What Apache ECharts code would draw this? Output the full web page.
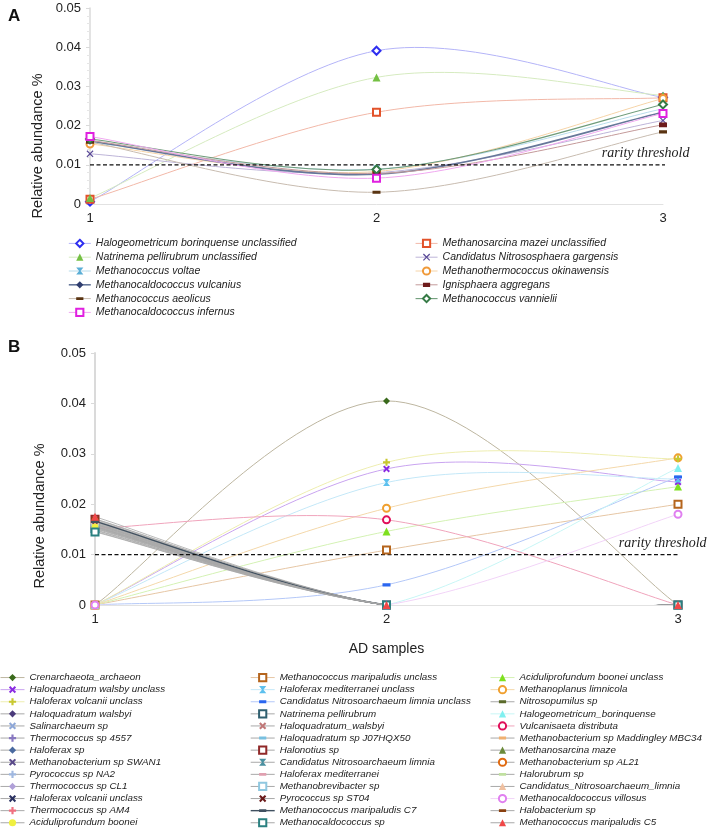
<!DOCTYPE html>
<html><head><meta charset="utf-8">
<script src="https://cdn.jsdelivr.net/npm/echarts@6/dist/echarts.min.js"></script>
<style>html,body{margin:0;padding:0;background:#fff}#c{width:708px;height:830px}</style>
</head><body><div id="c"></div>
<script>
// ---------------- data ----------------
const samples = [1, 2, 3];
const yMin = 0, yMax = 0.05, yStep = 0.01;
const rarityThreshold = 0.01;
const thresholdEnd = 3.033;
const yTitle = 'Relative abundance %';
const xTitle = 'AD samples';
const thresholdText = 'rarity threshold';

// Panel A (series order = legend row-major order, 2 columns)
const namesA = [
  'Halogeometricum borinquense unclassified', 'Methanosarcina mazei unclassified',
  'Natrinema pellirubrum unclassified', 'Candidatus Nitrososphaera gargensis',
  'Methanococcus voltae', 'Methanothermococcus okinawensis',
  'Methanocaldococcus vulcanius', 'Ignisphaera aggregans',
  'Methanococcus aeolicus', 'Methanococcus vannielii',
  'Methanocaldococcus infernus'
];
const valuesA = [
  [0.0006, 0.0391, 0.0272],
  [0.0012, 0.0234, 0.0271],
  [0.0015, 0.0323, 0.0277],
  [0.0128, 0.0080, 0.0213],
  [0.0157, 0.0089, 0.0243],
  [0.0153, 0.0083, 0.0269],
  [0.0160, 0.0076, 0.0234],
  [0.0162, 0.0078, 0.0202],
  [0.0158, 0.0030, 0.0184],
  [0.0166, 0.0088, 0.0254],
  [0.0172, 0.0066, 0.0231]
];

// Panel B (series order = legend row-major order, 3 columns)
const namesB = [
  'Crenarchaeota_archaeon', 'Methanococcus maripaludis unclass', 'Aciduliprofundum boonei unclass',
  'Haloquadratum walsby unclass', 'Haloferax mediterranei unclass', 'Methanoplanus limnicola',
  'Haloferax volcanii unclass', 'Candidatus Nitrosoarchaeum limnia unclass', 'Nitrosopumilus sp',
  'Haloquadratum walsbyi', 'Natrinema pellirubrum', 'Halogeometricum_borinquense',
  'Salinarchaeum sp', 'Haloquadratum_walsbyi', 'Vulcanisaeta distributa',
  'Thermococcus sp 4557', 'Haloquadratum sp J07HQX50', 'Methanobacterium sp Maddingley MBC34',
  'Haloferax sp', 'Halonotius sp', 'Methanosarcina maze',
  'Methanobacterium sp SWAN1', 'Candidatus Nitrosoarchaeum limnia', 'Methanobacterium sp AL21',
  'Pyrococcus sp NA2', 'Haloferax mediterranei', 'Halorubrum sp',
  'Thermococcus sp CL1', 'Methanobrevibacter sp', 'Candidatus_Nitrosoarchaeum_limnia',
  'Haloferax volcanii unclass ', 'Pyrococcus sp ST04', 'Methanocaldococcus villosus',
  'Thermococcus sp AM4', 'Methanococcus maripaludis C7', 'Halobacterium sp',
  'Aciduliprofundum boonei', 'Methanocaldococcus sp', 'Methanococcus maripaludis C5'
];
const valuesB = [
  [0, 0.0405, 0], [0, 0.0109, 0.0200], [0, 0.0146, 0.0235],
  [0, 0.0270, 0.0244], [0, 0.0243, 0.0250], [0, 0.0192, 0.0292],
  [0, 0.0283, 0.0290], [0, 0.0040, 0.0254], [0.0146, 0, 0],
  [0.0166, 0, 0], [0.0152, 0, 0], [0, 0, 0.0272],
  [0.0158, 0, 0], [0.0160, 0, 0], [0.0152, 0.0169, 0],
  [0.0163, 0, 0], [0.0149, 0, 0], [0.0155, 0, 0],
  [0.0157, 0, 0], [0.0170, 0, 0], [0.0148, 0, 0],
  [0.0161, 0, 0], [0.0154, 0, 0], [0.0156, 0, 0],
  [0.0159, 0, 0], [0.0151, 0, 0], [0.0162, 0, 0],
  [0.0164, 0, 0], [0.0153, 0, 0], [0.0167, 0, 0],
  [0.0160, 0, 0], [0.0168, 0, 0], [0, 0, 0.0180],
  [0.0165, 0, 0], [0.0166, 0, 0], [0.0171, 0, 0],
  [0.0155, 0, 0], [0.0145, 0, 0], [0.0175, 0, 0]
];

// ---------------- styles ----------------
const SYM = {
  x: 'path://M2,0L5,3L8,0L10,2L7,5L10,8L8,10L5,7L2,10L0,8L3,5L0,2Z',
  thinX: 'path://M1.2,0L5,3.8L8.8,0L10,1.2L6.2,5L10,8.8L8.8,10L5,6.2L1.2,10L0,8.8L3.8,5L0,1.2Z',
  plus: 'path://M3.5,0H6.5V3.5H10V6.5H6.5V10H3.5V6.5H0V3.5H3.5Z',
  bow: 'path://M0,0H10L6,5L10,10H0L4,5Z',
  dash: 'path://M0,3H10V7H0Z M5,0L5,0Z M5,10L5,10Z',
  block: 'path://M0,2H10V8H0Z M5,0L5,0Z M5,10L5,10Z',
  diamond: 'diamond', eDiamond: 'emptyDiamond', tri: 'triangle',
  eRect: 'emptyRect', eCircle: 'emptyCircle', circle: 'circle'
};
const SIZE = {x: 7, thinX: 7, plus: 7, bow: 7, dash: 8, block: 8, diamond: 7, eDiamond: 8, tri: 8, eRect: 7, eCircle: 7, circle: 7};

// [symbol, marker colour, line colour, line width]
const styleA = [
  ['eDiamond', '#2e2ef0', '#b4b4f8', 1],
  ['eRect', '#e2522a', '#f2b8a8', 1],
  ['tri', '#74c043', '#d6ebc0', 1],
  ['thinX', '#5a4a98', '#bdb4d8', 1],
  ['bow', '#5aaed6', '#b8dcec', 1],
  ['eCircle', '#f09a3a', '#f6d4a8', 1],
  ['diamond', '#2f3d6e', '#66779a', 1.6],
  ['block', '#6e1c1c', '#c49a9a', 1],
  ['dash', '#5a3412', '#c8bcb0', 1],
  ['eDiamond', '#357a45', '#6f9c7a', 1.1],
  ['eRect', '#e020e0', '#f0a8f0', 1]
];
const G = '#a8a8a8';
const styleB = [
  ['diamond', '#3a6a1c', '#bdb6a0', 1], ['eRect', '#b5651d', '#e6c6a4', 1], ['tri', '#7ee01e', '#d4f2b4', 1],
  ['x', '#8a2be2', '#c9a4f0', 1], ['bow', '#5cc0ee', '#c4e8f8', 1], ['eCircle', '#f0a030', '#f4d8aa', 1],
  ['plus', '#c8c830', '#eeeeb0', 1], ['dash', '#2a66f0', '#b4c8f8', 1], ['dash', '#5a6a2a', G, 0.8],
  ['diamond', '#4b3b7b', G, 0.8], ['eRect', '#2f5f6f', G, 0.8], ['tri', '#80f0f0', '#c8f6f6', 1],
  ['x', '#8fa8d8', G, 0.8], ['x', '#c07878', G, 0.8], ['eCircle', '#e0105a', '#f0a4bc', 1],
  ['plus', '#8878c0', G, 0.8], ['dash', '#78c0e0', G, 0.8], ['dash', '#f0b070', G, 0.8],
  ['diamond', '#4a6aa0', G, 0.8], ['eRect', '#902828', G, 0.8], ['tri', '#6b8a3a', G, 0.8],
  ['x', '#5a4a8a', G, 0.8], ['bow', '#4a90a0', G, 0.8], ['eCircle', '#e06a10', G, 0.8],
  ['plus', '#a0b8e0', G, 0.8], ['dash', '#e0a0b0', G, 0.8], ['dash', '#c0e0a0', G, 0.8],
  ['diamond', '#b0a0d8', G, 0.8], ['eRect', '#90c8e0', G, 0.8], ['tri', '#f0c0a0', G, 0.8],
  ['x', '#2a3060', G, 0.8], ['x', '#6a1a1a', G, 0.8], ['eCircle', '#e080f0', '#f2d4f8', 1],
  ['plus', '#f07080', G, 0.8], ['dash', '#405060', '#405060', 1.4], ['dash', '#8a4010', G, 0.8],
  ['circle', '#f0f040', G, 0.8], ['eRect', '#2a8080', G, 0.8], ['tri', '#f04848', G, 0.8]
];

const FONT = 'Liberation Sans, Arial, sans-serif';

// markers (line series; their own line is hidden, curves are drawn by the custom series)
function markerSeries(names, values, styles, axis) {
  return names.map((name, i) => {
    const st = styles[i];
    return {
      type: 'line', name: name, xAxisIndex: axis, yAxisIndex: axis,
      data: samples.map((s, j) => [s, values[i][j]]),
      symbol: SYM[st[0]], symbolSize: SIZE[st[0]], showSymbol: true,
      itemStyle: {color: st[1]},
      lineStyle: {color: st[2], width: 0},
      emphasis: {disabled: true}, animation: false, silent: true
    };
  });
}
// smoothed curves (Catmull-Rom style Bezier through the data points, like the spreadsheet's smoothed lines)
function curveSeries(values, styles, axis) {
  return {
    type: 'custom', coordinateSystem: 'cartesian2d', xAxisIndex: axis, yAxisIndex: axis,
    clip: true, silent: true, animation: false, z: 1,
    data: values.map((v, i) => [samples[0], v[0], i]),
    renderItem: function (params, api) {
      const i = api.value(2);
      const P = samples.map((s, j) => api.coord([s, values[i][j]]));
      const n = P.length;
      const g = k => P[Math.max(0, Math.min(n - 1, k))];
      const children = [];
      for (let k = 0; k < n - 1; k++) {
        const p0 = g(k - 1), p1 = g(k), p2 = g(k + 1), p3 = g(k + 2);
        children.push({
          type: 'bezierCurve',
          shape: {
            x1: p1[0], y1: p1[1], x2: p2[0], y2: p2[1],
            cpx1: p1[0] + (p2[0] - p0[0]) / 6, cpy1: p1[1] + (p2[1] - p0[1]) / 6,
            cpx2: p2[0] - (p3[0] - p1[0]) / 6, cpy2: p2[1] - (p3[1] - p1[1]) / 6
          },
          style: {stroke: styles[i][2], lineWidth: styles[i][3], fill: null}
        });
      }
      return {type: 'group', children: children};
    }
  };
}
function thresholdSeries(axis) {
  return {
    type: 'line', name: thresholdText, xAxisIndex: axis, yAxisIndex: axis,
    data: [[samples[0], rarityThreshold], [thresholdEnd, rarityThreshold]],
    clip: false, symbol: 'none', silent: true, animation: false,
    lineStyle: {color: '#111', width: 1.3, type: [4, 2.5]}
  };
}
function legendCol(names, styles, idx, left, top, itemW, fs, lineH) {
  return {
    orient: 'vertical', left: left, top: top, selectedMode: false,
    itemWidth: itemW, itemHeight: 9, itemGap: 1, padding: 0,
    data: idx.map(i => ({name: names[i], lineStyle: {color: styles[i][2], width: Math.max(1, styles[i][3]), opacity: 1}})),
    textStyle: {fontFamily: FONT, fontStyle: 'italic', fontSize: fs, color: '#222', lineHeight: lineH}
  };
}
function yAx(grid, minor, lw) {
  return {
    type: 'value', gridIndex: grid, min: yMin, max: yMax, interval: yStep,
    axisLine: {show: true, lineStyle: {color: '#dadada', width: lw}},
    axisTick: {show: true, length: 4, lineStyle: {color: '#dadada'}},
    minorTick: {show: minor, splitNumber: 5, length: 3, lineStyle: {color: '#e6e6e6'}},
    splitLine: {show: false},
    axisLabel: {fontFamily: FONT, fontSize: 13, color: '#222', margin: 9}
  };
}
function xAx(grid, withName) {
  const a = {
    type: 'value', gridIndex: grid, min: samples[0], max: samples[samples.length - 1], interval: 1,
    axisLine: {show: true, lineStyle: {color: '#e2e2e2'}},
    axisTick: {show: false}, splitLine: {show: false},
    axisLabel: {fontFamily: FONT, fontSize: 13, color: '#222', margin: 8}
  };
  if (withName) {
    a.name = xTitle; a.nameLocation = 'middle'; a.nameGap = 37;
    a.nameTextStyle = {fontFamily: FONT, fontSize: 14, color: '#222'};
  }
  return a;
}

const colA1 = [0, 2, 4, 6, 8, 10], colA2 = [1, 3, 5, 7, 9];
const colB = [0, 1, 2].map(c => namesB.map((_, i) => i).filter(i => i % 3 === c));

const chart = echarts.init(document.getElementById('c'), null, {renderer: 'canvas'});
chart.setOption({
  animation: false,
  textStyle: {fontFamily: FONT},
  grid: [
    {left: 90, top: 8, width: 573, height: 196},
    {left: 95, top: 353, width: 583, height: 252}
  ],
  xAxis: [xAx(0, false), xAx(1, true)],
  yAxis: [yAx(0, true, 1.5), yAx(1, false, 2)],
  legend: [
    legendCol(namesA, styleA, colA1, 68, 237, 22, 10.5, 12.8),
    legendCol(namesA, styleA, colA2, 415, 237, 22, 10.5, 12.8),
    legendCol(namesB, styleB, colB[0], 0, 672, 24, 9.8, 11.1),
    legendCol(namesB, styleB, colB[1], 250, 672, 24, 9.8, 11.1),
    legendCol(namesB, styleB, colB[2], 490, 672, 24, 9.8, 11.1)
  ],
  series: [curveSeries(valuesA, styleA, 0), curveSeries(valuesB, styleB, 1),
    thresholdSeries(0), thresholdSeries(1)].concat(
    markerSeries(namesA, valuesA, styleA, 0),
    markerSeries(namesB, valuesB, styleB, 1))
});

const pA = chart.convertToPixel({xAxisIndex: 0, yAxisIndex: 0}, [thresholdEnd, rarityThreshold]);
const pB = chart.convertToPixel({xAxisIndex: 1, yAxisIndex: 1}, [thresholdEnd, rarityThreshold]);
const thrStyle = {fontFamily: 'Liberation Serif, Times New Roman, serif', fontStyle: 'italic', fontSize: 14, fill: '#222', textAlign: 'right', textVerticalAlign: 'middle'};
chart.setOption({
  graphic: [
    {type: 'text', x: 8, y: 8, style: {text: 'A', fontFamily: FONT, fontWeight: 'bold', fontSize: 17, fill: '#111'}},
    {type: 'text', x: 8, y: 339, style: {text: 'B', fontFamily: FONT, fontWeight: 'bold', fontSize: 17, fill: '#111'}},
    {type: 'text', x: 38, y: 146, rotation: Math.PI / 2, style: {text: yTitle, fontFamily: FONT, fontSize: 14.5, fill: '#222', textAlign: 'center', textVerticalAlign: 'middle'}},
    {type: 'text', x: 40, y: 516, rotation: Math.PI / 2, style: {text: yTitle, fontFamily: FONT, fontSize: 14.5, fill: '#222', textAlign: 'center', textVerticalAlign: 'middle'}},
    {type: 'text', x: pA[0] + 17, y: pA[1] - 11, style: Object.assign({text: thresholdText}, thrStyle)},
    {type: 'text', x: pB[0] + 19, y: pB[1] - 11, style: Object.assign({text: thresholdText}, thrStyle)}
  ]
});
</script></body></html>
